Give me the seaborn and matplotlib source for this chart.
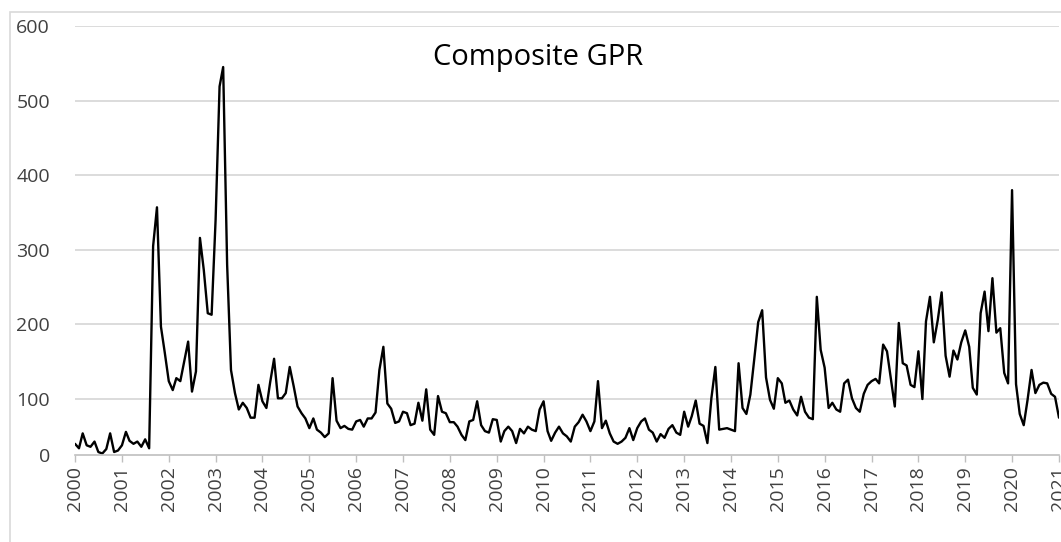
import pandas as pd
import seaborn as sns
import matplotlib.pyplot as plt
from matplotlib.patches import Rectangle

# monthly Composite GPR index, Jan 2000 .. Jan 2021
gpr_2000 = [40, 34, 54, 38, 36, 43, 29, 27, 33, 54, 29, 31]
gpr_2001 = [38, 56, 44, 40, 43, 36, 46, 34, 305, 357, 197, 162]
gpr_2002 = [124, 112, 128, 124, 150, 177, 110, 137, 316, 273, 215, 213]
gpr_2003 = [340, 519, 545, 280, 139, 108, 86, 95, 88, 75, 75, 119]
gpr_2004 = [97, 88, 122, 154, 101, 101, 108, 143, 117, 90, 81, 74]
gpr_2005 = [61, 74, 59, 55, 49, 54, 128, 71, 61, 64, 60, 59]
gpr_2006 = [70, 72, 63, 74, 74, 82, 139, 170, 94, 87, 68, 70]
gpr_2007 = [83, 81, 65, 67, 95, 71, 113, 59, 52, 104, 83, 81]
gpr_2008 = [69, 69, 63, 52, 45, 70, 72, 97, 65, 57, 55, 73]
gpr_2009 = [72, 43, 57, 63, 57, 41, 60, 54, 63, 59, 57, 86]
gpr_2010 = [97, 57, 44, 55, 63, 54, 50, 43, 63, 69, 79, 70]
gpr_2011 = [57, 70, 124, 61, 71, 54, 43, 40, 43, 48, 61, 45]
gpr_2012 = [61, 70, 74, 59, 55, 43, 53, 48, 60, 65, 55, 52]
gpr_2013 = [83, 63, 77, 98, 67, 64, 41, 101, 143, 59, 60, 61]
gpr_2014 = [59, 57, 148, 88, 80, 106, 153, 203, 219, 129, 99, 87]
gpr_2015 = [128, 121, 95, 98, 86, 78, 103, 83, 75, 73, 237, 166]
gpr_2016 = [142, 88, 95, 86, 83, 121, 126, 101, 88, 83, 107, 119]
gpr_2017 = [124, 127, 121, 173, 164, 126, 90, 202, 148, 145, 119, 116]
gpr_2018 = [164, 100, 204, 237, 176, 206, 243, 158, 130, 165, 153, 176]
gpr_2019 = [192, 170, 115, 106, 215, 244, 191, 262, 189, 195, 135, 121]
gpr_2020 = [380, 120, 80, 65, 99, 139, 108, 119, 122, 121, 107, 103]
gpr_2021 = [75]

years = list(range(2000, 2022))
y_ticks = [100, 200, 300, 400, 500, 600]
y_bottom = 25  # the picture's axis line (labelled "0") sits just under the lowest values

gpr = (gpr_2000 + gpr_2001 + gpr_2002 + gpr_2003 + gpr_2004 + gpr_2005 +
       gpr_2006 + gpr_2007 + gpr_2008 + gpr_2009 + gpr_2010 + gpr_2011 +
       gpr_2012 + gpr_2013 + gpr_2014 + gpr_2015 + gpr_2016 + gpr_2017 +
       gpr_2018 + gpr_2019 + gpr_2020 + gpr_2021)
df = pd.DataFrame({
    "date": pd.date_range("2000-01-01", periods=len(gpr), freq="MS"),
    "gpr": gpr,
})

sns.set_theme(style="white")
plt.rcParams["font.family"] = ["Open Sans", "DejaVu Sans"]

W, H = 1061, 542
fig = plt.figure(figsize=(W / 100, H / 100), dpi=100)
fig.patch.set_facecolor("white")

# chart area border (only left/top edges fall inside the picture)
fig.patches.append(Rectangle((10 / W, -0.2), 1.2, 1.2 - 12 / H,
                             transform=fig.transFigure, fill=False,
                             edgecolor="#d9d9d9", linewidth=1.2))

ax = fig.add_axes([75 / W, 1 - 455 / H, (1059 - 75) / W, (455 - 26) / H])
ax.set_facecolor("none")

for v in y_ticks:
    ax.axhline(v, color="#d9d9d9", linewidth=1.3, zorder=0)

sns.lineplot(data=df, x="date", y="gpr", color="black", linewidth=1.7, ax=ax)

ax.set_xlim(pd.Timestamp("2000-01-01"), pd.Timestamp("2021-01-01"))
ax.set_ylim(y_bottom, 600)
ax.set_yticks([y_bottom] + y_ticks)
ax.set_yticklabels(["0"] + [str(v) for v in y_ticks], fontsize=14,
                   color="#404040")
tick_dates = [pd.Timestamp(f"{y}-01-01") for y in years]
ax.set_xticks(tick_dates)
ax.set_xticklabels([str(y) for y in years], rotation=90, fontsize=14,
                   color="#404040", va="top")
ax.tick_params(axis="y", length=0, pad=18)
ax.tick_params(axis="x", length=5, width=1, color="#bfbfbf", pad=3,
               direction="out", bottom=True)
ax.set_xlabel("")
ax.set_ylabel("")

for side in ["top", "right", "left"]:
    ax.spines[side].set_visible(False)
ax.spines["bottom"].set_color("#bfbfbf")
ax.spines["bottom"].set_linewidth(1.2)

fig.text(538 / W, 1 - 58 / H, "Composite GPR", fontsize=21, color="black",
         ha="center", va="center")

fig.savefig("out.png", dpi=100)
